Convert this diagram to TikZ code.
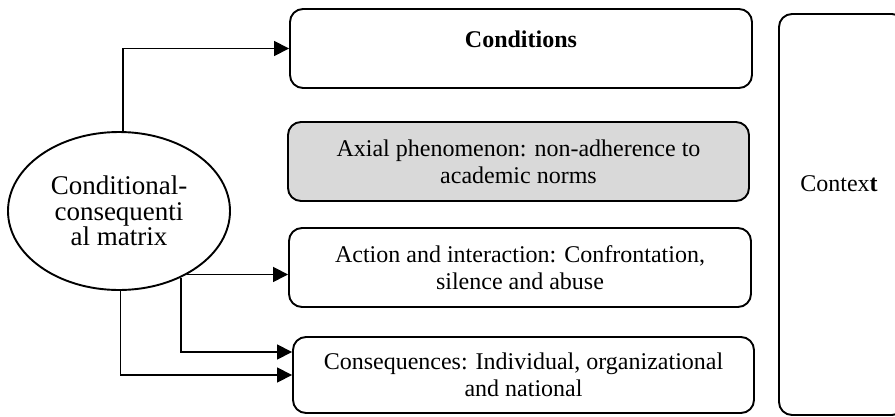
\documentclass[tikz,border=0pt]{standalone}
\usepackage{fontspec}
\setmainfont{Liberation Serif}
\usetikzlibrary{shapes.geometric,arrows.meta}
\definecolor{axialgray}{HTML}{D9D9D9}
\begin{document}
\begin{tikzpicture}[x=1pt,y=-1pt,
  box/.style={draw,line width=1.9pt,rounded corners=13pt,align=center,inner sep=0pt,
    font=\fontsize{24}{27}\selectfont},
  arr/.style={line width=1.6pt,-{Triangle[length=15pt,width=15pt]}},
  oval/.style={draw,ellipse,line width=1.9pt,inner sep=0pt,align=center,
    font=\fontsize{27}{25.5}\selectfont}]
\useasboundingbox (0,0) rectangle (895,416);
\clip (0,0) rectangle (895,416);
\node[box,minimum width=462,minimum height=79,text depth=19pt] (cond) at (521,48.5) {\textbf{Conditions}};
\node[box,fill=axialgray,minimum width=461,minimum height=79] (axial) at (518.5,161.5)
  {Axial phenomenon: non-adherence to\\academic norms};
\node[box,minimum width=462,minimum height=79] (act) at (520,267.5)
  {Action and interaction: Confrontation,\\silence and abuse};
\node[box,minimum width=461,minimum height=76] (cons) at (523.5,375)
  {Consequences: Individual, organizational\\and national};
\node[box,minimum width=126,minimum height=401,text depth=62.5pt] (ctx) at (842,214.5)
  {\hspace*{-6pt}Contex\textbf{t}};
\node[oval,minimum width=222,minimum height=158] (e) at (119,211)
  {Conditional-\\consequenti\\al matrix};
\draw[arr] (e.87) |- (cond.west);
\draw[arr] (e.-43) -- (e.-43 -| act.west);
\draw[arr] (e.-47) |- ([yshift=23pt]cons.west);
\draw[arr] (e.-89) |- (cons.west);
\end{tikzpicture}
\end{document}
